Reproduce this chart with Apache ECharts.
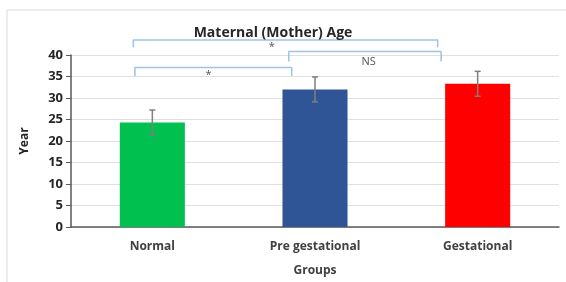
<!DOCTYPE html>
<html>
<head>
<meta charset="utf-8">
<script src="https://cdn.jsdelivr.net/npm/echarts@6/dist/echarts.min.js"></script>
<style>
  html, body { margin: 0; padding: 0; background: #fff; }
  #chart { width: 566px; height: 282px; }
</style>
</head>
<body>
<div id="chart"></div>
<script>
// data
const groups = ['Normal', 'Pre gestational', 'Gestational'];
const means = [24.3, 32.0, 33.3];
const errors = [2.9, 2.9, 2.9];
const barColors = ['#00c050', '#2f5597', '#ff0000'];

// significance brackets: [from, to, top, legBottom] in band units / y values
const brackets = [
  [0.383, 2.254, 43.5, 41.8],
  [1.339, 2.275, 40.8, 38.5],
  [0.393, 1.357, 37.1, 35.1]
];
const bracketLabels = [
  { x: 1.235, y: 41.8, text: '*' },
  { x: 1.83, y: 38.3, text: 'NS' },
  { x: 0.845, y: 35.3, text: '*' }
];

const font = '"Open Sans", "Noto Sans", sans-serif';
const chart = echarts.init(document.getElementById('chart'));

const bracketSeries = brackets.map(b => ({
  type: 'line',
  xAxisIndex: 1,
  clip: false,
  symbol: 'none',
  silent: true,
  lineStyle: { color: '#9dc3e6', width: 1.5 },
  data: [[b[0], b[3]], [b[0], b[2]], [b[1], b[2]], [b[1], b[3]]]
}));

chart.setOption({
  animation: false,
  graphic: [{
    type: 'polyline',
    shape: { points: [[7, 282], [7, 10], [566, 10]] },
    style: { stroke: '#d9d9d9', fill: null, lineWidth: 1 }
  }],
  title: {
    text: 'Maternal (Mother) Age',
    left: 268,
    textAlign: 'center',
    top: 21,
    textStyle: { fontFamily: font, fontWeight: 'bold', fontSize: 14, color: '#262626' }
  },
  grid: { left: 71, right: 7, top: 55, bottom: 55 },
  xAxis: [{
    type: 'category',
    data: groups,
    name: 'Groups',
    nameLocation: 'middle',
    nameGap: 38,
    nameTextStyle: { fontFamily: font, fontWeight: 'bold', fontSize: 12, color: '#404040' },
    axisLine: { lineStyle: { color: '#595959', width: 1.5 } },
    axisTick: { show: false },
    axisLabel: { fontFamily: font, fontWeight: 'bold', fontSize: 12, color: '#404040', margin: 14 }
  }, {
    type: 'value',
    min: 0,
    max: 3,
    show: false
  }],
  yAxis: {
    type: 'value',
    min: 0,
    max: 40,
    interval: 5,
    name: 'Year',
    nameLocation: 'middle',
    nameGap: 40,
    nameTextStyle: { fontFamily: font, fontWeight: 'bold', fontSize: 12, color: '#262626' },
    axisLine: { show: true, lineStyle: { color: '#595959', width: 1.5 } },
    axisTick: { show: true, length: 5, lineStyle: { color: '#595959' } },
    axisLabel: { fontFamily: font, fontWeight: 'bold', fontSize: 13, color: '#262626', margin: 8 },
    splitLine: { lineStyle: { color: '#e0e0e0', width: 1.2 } }
  },
  series: [{
    type: 'bar',
    barWidth: '40%',
    data: means.map((v, i) => ({ value: v, itemStyle: { color: barColors[i] } }))
  }, {
    type: 'custom',
    silent: true,
    data: means.map((v, i) => [i, v - errors[i], v + errors[i]]),
    renderItem: (params, api) => {
      const lo = api.coord([api.value(0), api.value(1)]);
      const hi = api.coord([api.value(0), api.value(2)]);
      const cap = 3;
      const style = { stroke: '#7f7f7f', lineWidth: 1.5 };
      return {
        type: 'group',
        children: [
          { type: 'line', shape: { x1: lo[0], y1: lo[1], x2: hi[0], y2: hi[1] }, style },
          { type: 'line', shape: { x1: lo[0] - cap, y1: lo[1], x2: lo[0] + cap, y2: lo[1] }, style },
          { type: 'line', shape: { x1: hi[0] - cap, y1: hi[1], x2: hi[0] + cap, y2: hi[1] }, style }
        ]
      };
    },
    z: 5
  }, ...bracketSeries, {
    type: 'scatter',
    xAxisIndex: 1,
    clip: false,
    symbolSize: 0,
    silent: true,
    data: bracketLabels.map(l => ({ value: [l.x, l.y], name: l.text })),
    label: {
      show: true,
      formatter: p => p.name,
      fontFamily: font,
      fontSize: 11,
      color: '#262626'
    }
  }]
});
</script>
</body>
</html>
